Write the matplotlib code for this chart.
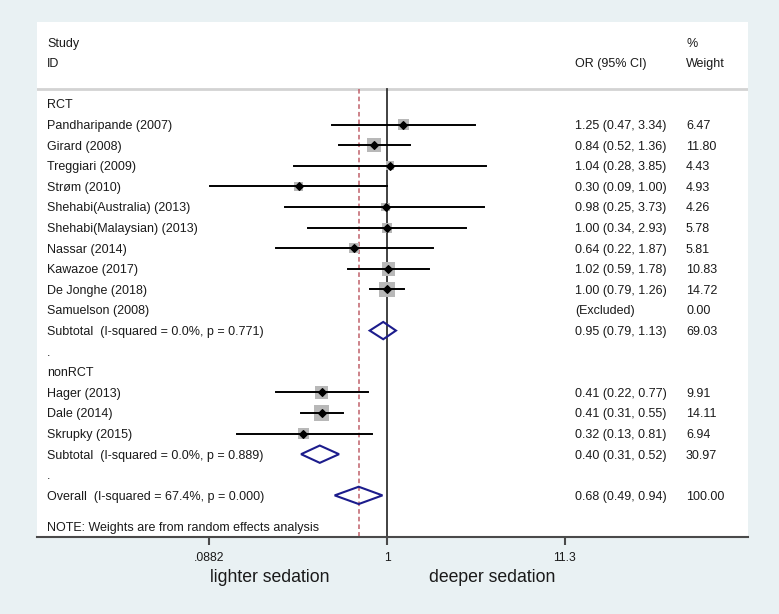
import numpy as np
import matplotlib
matplotlib.use('Agg')
import matplotlib.pyplot as plt
from matplotlib.patches import Polygon
import matplotlib.transforms as mtransforms

plt.rcParams['font.family'] = ['Liberation Sans', 'DejaVu Sans']

# rows of the forest plot, top to bottom
labels = ["RCT", "Pandharipande (2007)", "Girard (2008)", "Treggiari (2009)", "Strøm (2010)",
          "Shehabi(Australia) (2013)", "Shehabi(Malaysian) (2013)", "Nassar (2014)",
          "Kawazoe (2017)", "De Jonghe (2018)", "Samuelson (2008)",
          "Subtotal  (I-squared = 0.0%, p = 0.771)", ".", "nonRCT",
          "Hager (2013)", "Dale (2014)", "Skrupky (2015)",
          "Subtotal  (I-squared = 0.0%, p = 0.889)", ".",
          "Overall  (I-squared = 67.4%, p = 0.000)"]
# row kind: h = heading, s = study, x = excluded, d = pooled diamond, b = blank
kinds = ["h", "s", "s", "s", "s", "s", "s", "s", "s", "s", "x", "d", "b", "h",
         "s", "s", "s", "d", "b", "d"]
est = [None, 1.25, 0.84, 1.04, 0.30, 0.98, 1.00, 0.64, 1.02, 1.00, None, 0.95, None, None,
       0.41, 0.41, 0.32, 0.40, None, 0.68]
lo = [None, 0.47, 0.52, 0.28, 0.09, 0.25, 0.34, 0.22, 0.59, 0.79, None, 0.79, None, None,
      0.22, 0.31, 0.13, 0.31, None, 0.49]
hi = [None, 3.34, 1.36, 3.85, 1.00, 3.73, 2.93, 1.87, 1.78, 1.26, None, 1.13, None, None,
      0.77, 0.55, 0.81, 0.52, None, 0.94]
ci_text = ["", "1.25 (0.47, 3.34)", "0.84 (0.52, 1.36)", "1.04 (0.28, 3.85)", "0.30 (0.09, 1.00)",
           "0.98 (0.25, 3.73)", "1.00 (0.34, 2.93)", "0.64 (0.22, 1.87)", "1.02 (0.59, 1.78)",
           "1.00 (0.79, 1.26)", "(Excluded)", "0.95 (0.79, 1.13)", "", "",
           "0.41 (0.22, 0.77)", "0.41 (0.31, 0.55)", "0.32 (0.13, 0.81)", "0.40 (0.31, 0.52)", "",
           "0.68 (0.49, 0.94)"]
weights = ["", "6.47", "11.80", "4.43", "4.93", "4.26", "5.78", "5.81", "10.83", "14.72", "0.00",
           "69.03", "", "", "9.91", "14.11", "6.94", "30.97", "", "100.00"]
xticks = [0.0882, 1, 11.3]
xticklabels = [".0882", "1", "11.3"]
overall = 0.68

bg = '#e9f1f3'
txt = '#1a1a1a'
fs = 9
va = 'center_baseline'

fig = plt.figure(figsize=(7.79, 6.14), dpi=100, facecolor=bg)
ax = fig.add_axes([37/779, 1-537/614, 711/779, 515/614])
ax.set_facecolor('white')
ax.set_xscale('log')
ax.set_xlim(np.exp(-4.771), np.exp(4.921))
ax.set_ylim(21.02, -3.98)
for s in ['top', 'left', 'right']:
    ax.spines[s].set_visible(False)
ax.spines['bottom'].set_color('#4a4a4a')
ax.spines['bottom'].set_linewidth(1.5)
ax.set_yticks([])
ax.set_xticks(xticks)
ax.set_xticklabels(xticklabels, fontsize=8.7, color=txt)
ax.minorticks_off()
ax.tick_params(axis='x', length=6, width=1.5, color='#4a4a4a', pad=5)

tr = mtransforms.blended_transform_factory(ax.transAxes, ax.transData)
x_lab, x_ci, x_w = 0.0141, 0.7567, 0.9128

# header
ax.text(x_lab, -3, "Study", transform=tr, fontsize=fs, color=txt, va=va)
ax.text(x_lab, -2, "ID", transform=tr, fontsize=fs, color=txt, va=va)
ax.text(x_ci, -2, "OR (95% CI)", transform=tr, fontsize=fs, color=txt, va=va)
ax.text(x_w, -3, "%", transform=tr, fontsize=fs, color=txt, va=va)
ax.text(x_w, -2, "Weight", transform=tr, fontsize=fs, color=txt, va=va)
ax.axhline(-0.73, color='#d3d3d3', lw=2.0, zorder=1)

# reference lines
ax.plot([1, 1], [-0.73, 21.02], color='#333333', lw=1.3, zorder=2)
ax.plot([overall, overall], [-0.73, 21.02], color='#c0606a', lw=1.1,
        ls=(0, (3, 2)), zorder=2)

for i, lab in enumerate(labels):
    ax.text(x_lab, i, lab, transform=tr, fontsize=fs, color=txt, va=va)
    ax.text(x_ci, i, ci_text[i], transform=tr, fontsize=fs, color=txt, va=va)
    ax.text(x_w, i, weights[i], transform=tr, fontsize=fs, color=txt, va=va)
    k = kinds[i]
    if k == "s":
        w = float(weights[i])
        side = 4.1 * np.sqrt(w) * 0.72
        ax.scatter([est[i]], [i], marker='s', s=side**2, color='#b8b8b8',
                   edgecolors='none', zorder=3)
        ax.plot([lo[i], hi[i]], [i, i], color='black', lw=1.4, zorder=4)
        ax.scatter([est[i]], [i], marker='D', s=15, color='black', zorder=5)
    elif k == "d":
        h = 0.42
        poly = Polygon([[lo[i], i], [est[i], i - h], [hi[i], i], [est[i], i + h]],
                       closed=True, fill=False, edgecolor='#1c1c8c', lw=1.5, zorder=5)
        ax.add_patch(poly)

ax.text(x_lab, 20.5, "NOTE: Weights are from random effects analysis", transform=tr,
        fontsize=fs, color=txt, va=va)

fig.text(270/779, 1-578/614, "lighter sedation", fontsize=12.7, color=txt,
         ha='center', va='center')
fig.text(492/779, 1-578/614, "deeper sedation", fontsize=12.7, color=txt,
         ha='center', va='center')

fig.savefig('out.png', dpi=100, facecolor=bg)
